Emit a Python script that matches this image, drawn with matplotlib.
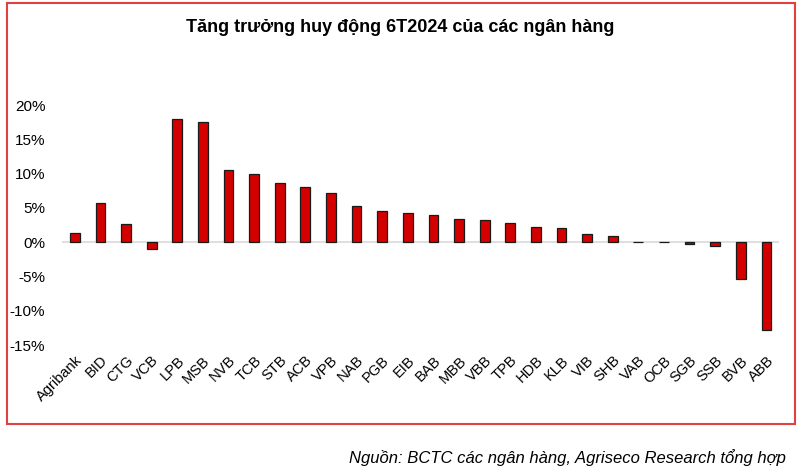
import matplotlib.pyplot as plt
from matplotlib.patches import Rectangle
from matplotlib.ticker import FuncFormatter

plt.rcParams["font.family"] = ["Liberation Sans", "DejaVu Sans"]

banks = ["Agribank", "BID", "CTG", "VCB", "LPB", "MSB", "NVB", "TCB", "STB",
         "ACB", "VPB", "NAB", "PGB", "EIB", "BAB", "MBB", "VBB", "TPB", "HDB",
         "KLB", "VIB", "SHB", "VAB", "OCB", "SGB", "SSB", "BVB", "ABB"]
growth = [1.3, 5.7, 2.6, -1.0, 17.9, 17.5, 10.5, 10.0, 8.6,
          8.0, 7.1, 5.3, 4.5, 4.2, 3.95, 3.4, 3.3, 2.8, 2.2,
          2.0, 1.2, 0.95, 0.05, 0.05, -0.2, -0.5, -5.4, -12.75]
yticks = [-15, -10, -5, 0, 5, 10, 15, 20]

title = "Tăng trưởng huy động 6T2024 của các ngân hàng"
source = "Nguồn: BCTC các ngân hàng, Agriseco Research tổng hợp"

fig = plt.figure(figsize=(8, 4.72), dpi=100)
ax = fig.add_axes([0.0775, 0.269, 0.8965, 0.5085])

x = range(len(banks))
ax.bar(x, growth, width=0.38, color="#D40000", edgecolor="#1a1a1a", linewidth=0.9, zorder=3)
ax.axhline(0, color="#d9d9d9", linewidth=1.2, zorder=2)

ax.set_xlim(-0.5, len(banks) - 0.5)
ax.set_ylim(-15, 20)
ax.set_yticks(yticks)
ax.yaxis.set_major_formatter(FuncFormatter(lambda v, p: f"{v:.0f}%"))
ax.set_xticks(list(x))
ax.set_xticklabels(banks, rotation=45, ha="right", rotation_mode="anchor", fontsize=10.5)
ax.tick_params(axis="y", length=0, labelsize=11, pad=12)
ax.tick_params(axis="x", length=0, pad=6)
for s in ax.spines.values():
    s.set_visible(False)

fig.text(0.5, 0.942, title, ha="center", va="center", fontsize=13, fontweight="bold")
fig.text(0.982, 0.03, source, ha="right", va="center", fontsize=12, style="italic")

frame = Rectangle((7 / 800, 1 - 424 / 472), 788 / 800, 421 / 472, transform=fig.transFigure,
                  fill=False, edgecolor="#E04040", linewidth=1.5)
fig.patches.append(frame)

fig.savefig("out.png", dpi=100)
